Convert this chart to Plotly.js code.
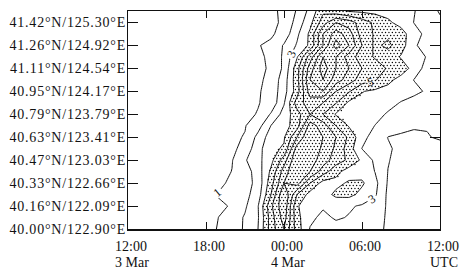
<!DOCTYPE html>
<html>
<head>
<meta charset="utf-8">
<script src="https://cdn.plot.ly/plotly-3.0.1.min.js"></script>
<style>
body{margin:0;background:#fff;}
.ytick text{letter-spacing:0.8px;}
</style>
</head>
<body>
<div id="chart" style="width:471px;height:274px;"></div>
<script>
// hours after 12:00 UTC 3 Mar
const hours = [0,1,2,3,4,5,6,7,8,9,10,11,12,13,14,15,16,17,18,19,20,21,22,23,24];
// station index along the section (0 = 40.00N/122.90E ... 9 = 41.42N/125.30E)
const rows = [0,0.5,1,1.5,2,2.5,3,3.5,4,4.5,5,5.5,6,6.5,7,7.5,8,8.5,9,9.5];

const xTickVals = [0,6,12,18,24];
const xTickText = ['12:00','18:00','00:00','06:00','12:00'];
const xDateVals = [0,12,24];
const xDateText = ['3 Mar','4 Mar','UTC'];
const yTickVals = [0,1,2,3,4,5,6,7,8,9];
const yTickText = ['40.00°N/122.90°E','40.16°N/122.09°E','40.33°N/122.66°E','40.47°N/123.03°E',
  '40.63°N/123.41°E','40.79°N/123.79°E','40.95°N/124.17°E','41.11°N/124.54°E',
  '41.26°N/124.92°E','41.42°N/125.30°E'];

// field values (rows bottom -> top, columns hour 0 -> 24)
const z = [
 [0,0,0,0.1,0.2,0.4,0.6,1.1,1.6,2.1,3.0,5.5,7.0,4.5,2.95,2.8,2.7,2.6,2.4,2.2,1.9,1.7,1.6,1.5,1.5],
 [0,0,0,0.1,0.2,0.4,0.6,1.02,1.5,2.1,2.9,5.5,7.5,4.3,3.2,2.8,3.1,2.95,2.7,2.3,1.9,1.7,1.6,1.5,1.5],
 [0,0,0,0.1,0.2,0.4,0.55,0.8,1.1,1.85,2.95,5.8,7.8,4.1,3.4,3.1,3.2,3.1,2.9,2.45,1.9,1.7,1.6,1.5,1.5],
 [0,0,0,0.1,0.3,0.6,0.8,1.1,1.5,1.7,2.5,5.0,8.0,5.0,3.6,3.5,4.25,4.3,3.7,3.15,1.8,1.7,1.6,1.5,1.5],
 [0,0,0,0.1,0.2,0.4,0.6,0.75,1.25,1.6,2.3,4.6,7.0,7.5,5.0,3.6,3.7,4.15,4.15,3.3,1.9,1.7,1.6,1.5,1.5],
 [0,0,0,0.1,0.2,0.3,0.5,0.7,1.02,1.5,2.5,4.2,6.5,8.0,7.0,5.5,4.3,3.5,3.6,2.98,1.98,1.7,1.6,1.5,1.5],
 [0,0,0,0.1,0.2,0.3,0.5,0.75,0.95,1.9,2.7,3.7,5.5,8.0,7.5,6.5,5.5,4.8,3.8,2.8,2.05,1.7,1.6,1.6,1.6],
 [0,0,0,0.1,0.2,0.4,0.6,0.7,0.75,1.4,2.6,3.8,4.1,7.5,7.8,6.8,5.8,4.5,2.98,2.5,2.1,1.8,1.7,1.7,1.7],
 [0,0,0,0.1,0.2,0.3,0.5,0.7,0.85,1.05,2.3,3.5,3.9,6.0,8.0,7.0,6.0,4.8,3.3,2.6,1.98,1.9,1.9,1.95,2.1],
 [0,0,0,0.1,0.2,0.3,0.4,0.6,0.8,0.95,1.6,3.02,3.6,4.5,7.5,6.5,5.0,3.9,3.5,2.98,2.5,2.2,2.05,2.05,2.15],
 [0,0,0,0.1,0.2,0.3,0.4,0.6,0.75,0.8,1.05,2.1,3.4,4.6,6.0,5.0,3.9,3.7,3.6,3.3,2.9,2.6,2.4,2.3,2.3],
 [0,0,0,0.1,0.2,0.3,0.4,0.5,0.65,0.8,0.95,1.3,2.9,5.5,6.5,6.0,5.05,3.8,3.7,3.6,3.3,2.95,2.7,2.5,2.4],
 [0,0,0,0.1,0.2,0.3,0.4,0.5,0.6,0.75,0.9,1.35,2.6,4.5,7.5,8.0,6.0,5.1,4.05,3.8,3.6,3.4,3.2,2.9,2.6],
 [0,0,0,0.1,0.2,0.3,0.4,0.5,0.6,0.7,0.8,1.3,2.5,4.6,8.0,9.0,7.5,6.5,5.5,5.1,4.3,3.6,2.98,2.8,2.5],
 [0,0,0,0.1,0.2,0.3,0.4,0.5,0.6,0.7,0.75,1.15,2.2,4.6,7.5,9.5,8.0,7.0,6.0,5.5,4.9,4.6,3.6,2.6,2.5],
 [0,0,0,0.1,0.2,0.3,0.4,0.5,0.6,0.75,0.85,1.15,2.2,3.9,6.5,9.0,8.0,6.5,5.5,4.9,4.6,3.9,3.4,2.95,2.5],
 [0,0,0,0.1,0.2,0.3,0.4,0.55,0.7,0.85,0.95,1.2,2.1,3.1,4.2,7.0,9.5,8.0,6.0,4.8,5.2,4.5,3.1,2.7,2.4],
 [0,0,0,0.1,0.2,0.3,0.4,0.5,0.6,0.75,0.85,0.85,1.4,2.8,4.2,7.0,8.5,7.5,5.5,4.9,4.8,4.5,3.3,2.8,2.3],
 [0,0,0,0.1,0.2,0.3,0.4,0.5,0.6,0.7,0.75,0.8,1.15,2.4,3.7,5.5,7.0,6.5,5.5,4.8,4.2,3.6,2.98,2.6,2.2],
 [0,0,0,0.1,0.2,0.3,0.4,0.5,0.6,0.7,0.75,0.85,1.15,2.1,3.3,4.8,4.3,3.9,3.8,3.7,3.6,3.4,3.05,2.5,1.9]
];
const stippleLevel = 4;

// stipple: sample the field on a fine staggered lattice, keep points above the threshold
function field(xv, yv){
  let j = 0; while (j < hours.length-2 && xv > hours[j+1]) j++;
  let i = 0; while (i < rows.length-2 && yv > rows[i+1]) i++;
  const tx = (xv-hours[j])/(hours[j+1]-hours[j]);
  const ty = (yv-rows[i])/(rows[i+1]-rows[i]);
  const a = z[i][j], b = z[i][j+1], c = z[i+1][j], d = z[i+1][j+1];
  return a*(1-tx)*(1-ty) + b*tx*(1-ty) + c*(1-tx)*ty + d*tx*ty;
}
const dx = 3.4/13, dy = 3.0/22.95;
const sx = [], sy = [];
let rowNo = 0;
for (let yv = dy/2; yv < rows[rows.length-1]; yv += dy, rowNo++){
  const off = (rowNo % 2) ? dx/2 : 0;
  for (let xv = dx/4 + off; xv < hours[hours.length-1]; xv += dx){
    if (field(xv, yv) > stippleLevel){ sx.push(xv); sy.push(yv); }
  }
}

const fontFam = 'Liberation Serif, Times New Roman, serif';
const base = {type:'contour', x:hours, y:rows, z:z, showscale:false, hoverinfo:'skip',
  line:{color:'#111', width:1, smoothing:0}};

const data = [
  {type:'scatter', mode:'markers', x:sx, y:sy, hoverinfo:'skip',
   marker:{size:1.4, color:'#000', symbol:'circle', line:{width:0}}},
  Object.assign({}, base, {contours:{start:1,end:5,size:2,coloring:'none',showlabels:true,
     labelfont:{family:fontFam,size:12,color:'#111'}}, autocontour:false}),
  Object.assign({}, base, {contours:{start:2,end:4,size:2,coloring:'none',showlabels:false}, autocontour:false}),
  Object.assign({}, base, {contours:{start:6,end:9,size:1,coloring:'none',showlabels:false}, autocontour:false})
];

const annotations = xDateVals.map((v,k) => ({
  x:v, y:0, xref:'x', yref:'paper', yanchor:'top', xanchor:'center',
  yshift:-24, xshift:4, showarrow:false, text:xDateText[k],
  font:{family:fontFam, size:14, color:'#111'}
}));

const layout = {
  width:471, height:274,
  margin:{l:128, r:31, t:11, b:45, pad:0},
  paper_bgcolor:'#fff', plot_bgcolor:'#fff',
  showlegend:false,
  font:{family:fontFam, size:14, color:'#111'},
  annotations:annotations,
  xaxis:{range:[0,24], tickmode:'array', tickvals:xTickVals, ticktext:xTickText,
    ticks:'inside', ticklen:7, tickwidth:1, tickcolor:'#111',
    ticklabelstandoff:4, ticklabelshift:3,
    showline:true, linecolor:'#111', linewidth:1.5, mirror:'ticks',
    showgrid:false, zeroline:false, fixedrange:true},
  yaxis:{range:[0,9.5], tickmode:'array', tickvals:yTickVals, ticktext:yTickText,
    ticks:'inside', ticklen:10, tickwidth:1, tickcolor:'#111',
    ticklabelstandoff:-2,
    showline:true, linecolor:'#111', linewidth:1.2, mirror:'ticks',
    showgrid:false, zeroline:false, fixedrange:true}
};

Plotly.newPlot('chart', data, layout, {displayModeBar:false, staticPlot:true});
</script>
</body>
</html>
